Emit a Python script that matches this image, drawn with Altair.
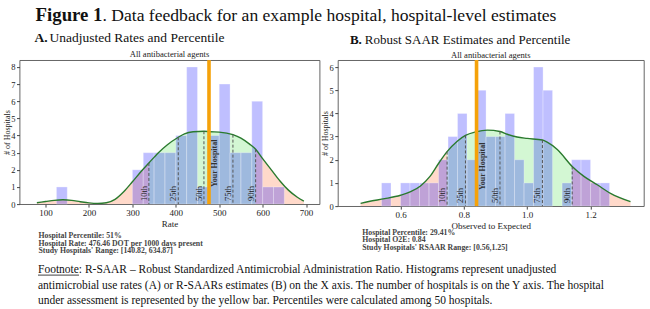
import altair as alt
import pandas as pd

FONT = "Liberation Serif"
SALMON = "#ffd9ca"
GREEN = "#d3f7d3"
BAR_BLUE = "#0000ff"
KDE_GREEN = "#2a7a2e"
ORANGE = "#f5a20a"
INK = "#222222"

# ---------------- Panel A: unadjusted rates ----------------
rate_bin_start = 125.0
rate_bin_width = 25.0
rate_counts = [1, 0, 0, 0, 0, 0, 0, 2, 3, 3, 3, 4, 8, 1, 4, 7, 3, 3, 6, 1, 1]
rate_kde_x = [80, 100, 120, 140, 160, 180, 200, 220, 240, 260, 280, 300, 320,
              338.0, 360, 380, 405.7, 420, 440, 464.8, 480, 500, 531.6, 550,
              570, 583.9, 600, 620, 640, 660, 680, 695]
rate_kde_y = [0.08, 0.15, 0.22, 0.25, 0.22, 0.14, 0.07, 0.04, 0.08, 0.28, 0.72,
              1.3, 1.9, 2.4, 3.0, 3.45, 3.9, 4.1, 4.22, 4.25, 4.22, 4.2, 4.05,
              3.85, 3.5, 3.2, 2.65, 2.0, 1.35, 0.8, 0.4, 0.17]
rate_pct_labels = ["10th", "25th", "50th", "75th", "90th"]
rate_pct_x = [338.0, 405.7, 464.8, 531.6, 583.9]
rate_hospital = 476.46
rate_notes = ["Hospital Percentile: 51%",
              "Hospital Rate: 476.46 DOT per 1000 days present",
              "Study Hospitals' Range: [140.82, 634.87]"]

# ---------------- Panel B: robust SAAR ----------------
saar_bin_start = 0.54
saar_bin_width = 0.03
saar_counts = [1, 0, 1, 1, 1, 1, 2, 3, 4, 2, 5, 3, 3, 4, 2, 1, 6, 5, 0, 1, 2, 2, 1, 1]
saar_kde_x = [0.474, 0.50, 0.55, 0.60, 0.632, 0.663, 0.693, 0.721, 0.747, 0.779,
              0.805, 0.837, 0.874, 0.914, 0.937, 0.968, 1.0, 1.048, 1.063, 1.095,
              1.142, 1.179, 1.221, 1.263, 1.326]
saar_kde_y = [0.12, 0.2, 0.32, 0.47, 0.62, 0.87, 1.28, 1.86, 2.35, 2.8, 3.05, 3.2,
              3.28, 3.22, 3.1, 2.98, 2.92, 2.85, 2.76, 2.44, 1.71, 1.28, 0.92,
              0.55, 0.19]
saar_pct_labels = ["10th", "25th", "50th", "75th", "90th"]
saar_pct_x = [0.747, 0.805, 0.914, 1.048, 1.142]
saar_hospital = 0.84
saar_notes = ["Hospital Percentile: 29.41%",
              "Hospital O2E: 0.84",
              "Study Hospitals' RSAAR Range: [0.56,1.25]"]

fig_title_bold = "Figure 1"
fig_title_rest = ". Data feedback for an example hospital, hospital-level estimates"
panel_a_tag, panel_a_title = "A.", "Unadjusted Rates and Percentile"
panel_b_tag, panel_b_title = "B.", "Robust SAAR Estimates and Percentile"
plot_title = "All antibacterial agents"
footnote_lines = [
    "Footnote: R-SAAR \u2013 Robust Standardized Antimicrobial Administration Ratio. Histograms represent unadjusted",
    "antimicrobial use rates (A) or R-SAARs estimates (B) on the X axis. The number of hospitals is on the Y axis. The hospital",
    "under assessment  is represented by the yellow bar. Percentiles were calculated among 50 hospitals.",
]

one = pd.DataFrame({"k": [0]})


def text_layer(txt, x, y, size, weight="normal", align="left", baseline="alphabetic",
               color=INK, line_height=None):
    kw = dict(align=align, baseline=baseline, fontSize=size, fontWeight=weight,
              color=color, font=FONT)
    if line_height is not None:
        kw["lineHeight"] = line_height
    return alt.Chart(one).mark_text(**kw).encode(
        x=alt.value(x), y=alt.value(y), text=alt.value(txt))


def panel(counts, bin_start, bin_width, kx, ky, pct_x, pct_lab, hosp, xdom, ydom,
          ymax_tick, w, h, xtitle, xvals, xfmt, hosp_label_y, title_y, extra):
    xs = alt.Scale(domain=xdom, nice=False, zero=False)
    ys = alt.Scale(domain=ydom, nice=False, zero=True)
    xaxis = alt.Axis(title=xtitle, values=xvals, format=xfmt, grid=False, domain=False,
                     tickSize=3, tickColor="#444", labelPadding=1, labelFontSize=9,
                     titleFontSize=9, titlePadding=2, labelColor=INK, titleColor=INK,
                     labelFont=FONT, titleFont=FONT, titleFontWeight="normal",
                     labelOverlap=False)
    yaxis = alt.Axis(title="# of Hospitals", values=list(range(0, ymax_tick + 1)),
                     format="d", grid=False, domain=False, tickSize=3, tickColor="#444",
                     labelPadding=1.5, labelFontSize=8.5, titleFontSize=8,
                     titleX=-12.5, titleBaseline="middle", labelColor=INK,
                     titleColor=INK, labelFont=FONT, titleFont=FONT,
                     titleFontWeight="normal", labelOverlap=False)

    def X(field):
        return alt.X(field, scale=xs, axis=xaxis)

    def Y(field):
        return alt.Y(field, scale=ys, axis=yaxis, stack=None)

    lo, hi = pct_x[0], pct_x[-1]
    zone_rows = []
    for x, y in zip(kx, ky):
        if x <= lo:
            zone_rows.append({"x": x, "y": y, "zone": "left"})
        if lo <= x <= hi:
            zone_rows.append({"x": x, "y": y, "zone": "mid"})
        if x >= hi:
            zone_rows.append({"x": x, "y": y, "zone": "right"})
    zones = pd.DataFrame(zone_rows)

    kde = pd.DataFrame({"x": kx, "y": ky})
    heights = dict(zip(kx, ky))
    pct = pd.DataFrame({"x": pct_x, "top": [heights[p] for p in pct_x],
                        "base": [0.0] * len(pct_x), "lab": pct_lab})
    bars = pd.DataFrame({
        "x0": [bin_start + i * bin_width for i in range(len(counts))],
        "x1": [bin_start + (i + 1) * bin_width for i in range(len(counts))],
        "n": counts,
        "base": [0.0] * len(counts),
    })
    bars = bars[bars["n"] > 0]
    hosp_df = pd.DataFrame({"x": [hosp]})

    area = alt.Chart(zones).mark_area(interpolate="monotone").encode(
        x=X("x:Q"), y=Y("y:Q"),
        color=alt.Color("zone:N", scale=alt.Scale(domain=["left", "mid", "right"],
                                                  range=[SALMON, GREEN, SALMON]),
                        legend=None),
        detail="zone:N",
    )
    hist = alt.Chart(bars).mark_rect(color=BAR_BLUE, fillOpacity=0.25, stroke="white",
                                     strokeWidth=0.5, strokeOpacity=0.6).encode(
        x=X("x0:Q"), x2="x1:Q", y=Y("n:Q"), y2="base:Q")
    line = alt.Chart(kde).mark_line(interpolate="monotone", color=KDE_GREEN,
                                    strokeWidth=1.4).encode(x=X("x:Q"), y=Y("y:Q"))
    rules = alt.Chart(pct).mark_rule(color="#555", strokeDash=[3, 2],
                                     strokeWidth=1).encode(
        x=X("x:Q"), y=Y("top:Q"), y2="base:Q")
    labels = alt.Chart(pct).mark_text(angle=270, align="left", baseline="bottom",
                                      fontSize=8.5, color=INK, font=FONT).encode(
        x=X("x:Q"), y=alt.value(h - 3), text="lab:N")
    hosp_rule = alt.Chart(hosp_df).mark_rule(color=ORANGE, strokeWidth=3.6).encode(
        x=X("x:Q"), y=alt.value(0), y2=alt.value(h))
    hosp_text = alt.Chart(hosp_df).mark_text(angle=270, align="left", baseline="top",
                                             dy=2, fontSize=8, fontWeight="bold",
                                             color="#333", font=FONT).encode(
        x=X("x:Q"), y=alt.value(hosp_label_y), text=alt.value("Your Hospital"))
    heading = text_layer(plot_title, w / 2, title_y, 8.6, align="center")

    layers = [area, hist, line, rules, labels, hosp_rule, hosp_text, heading] + extra
    return alt.layer(*layers).properties(
        width=w, height=h,
        view=alt.ViewBackground(stroke="#555", strokeWidth=0.9))


A_W, A_H = 300, 144
B_W, B_H = 306, 146

extra_a = [
    text_layer(fig_title_bold, 83, -39, 18.8, weight="bold", align="right", color="#111"),
    text_layer(fig_title_rest, 83, -39, 17.6, color="#111"),
    text_layer(panel_a_tag, 28, -18, 13.5, weight="bold", align="right", color="#111"),
    text_layer(panel_a_title, 30, -18, 13.5, color="#111"),
    text_layer(rate_notes, 19, 176, 7.8, weight="bold", baseline="middle",
               color="#444", line_height=7.6),
    text_layer(footnote_lines, 18.5, 213, 11.5, color="#111", line_height=15.5),
    alt.Chart(one).mark_rule(color="#111", strokeWidth=0.8).encode(
        x=alt.value(18.5), x2=alt.value(59.5), y=alt.value(215)),
]
extra_b = [
    text_layer(panel_b_tag, 24, -16, 13, weight="bold", align="right", color="#111"),
    text_layer(panel_b_title, 27, -16, 13, color="#111"),
    text_layer(saar_notes, 24.4, 172.7, 7.8, weight="bold", baseline="middle",
               color="#444", line_height=7.6),
]

panel_a = panel(rate_counts, rate_bin_start, rate_bin_width, rate_kde_x, rate_kde_y,
                rate_pct_x, rate_pct_labels, rate_hospital, [40, 731], [0, 8.4], 8,
                A_W, A_H, "Rate", [100, 200, 300, 400, 500, 600, 700], "d", 127, -3.5,
                extra_a)
panel_b = panel(saar_counts, saar_bin_start, saar_bin_width, saar_kde_x, saar_kde_y,
                saar_pct_x, saar_pct_labels, saar_hospital, [0.402, 1.368], [0, 6.3], 6,
                B_W, B_H, "Observed to Expected", [0.6, 0.8, 1.0, 1.2], ".1f", 130, -2,
                extra_b)

chart = alt.hconcat(panel_a, panel_b, spacing=18.3, bounds="flush").properties(
    padding={"left": 2.5, "top": 5.1, "right": 0, "bottom": 0}
).configure(font=FONT).configure_view(stroke="#555", strokeWidth=0.9)

chart.save("out.html", embed_options={"renderer": "svg", "actions": False})
